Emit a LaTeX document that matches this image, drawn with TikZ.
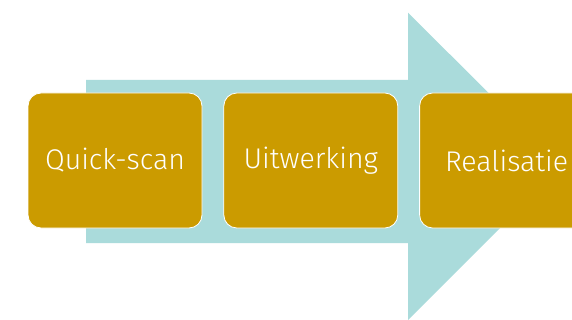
\documentclass[tikz,border=0pt]{standalone}
\usepackage{fontspec}
\setmainfont{Fira Sans}[UprightFont=* Light]
\usetikzlibrary{positioning}
\definecolor{arrowteal}{HTML}{AADBDB}
\definecolor{phasegold}{HTML}{CB9B00}

\begin{document}
\begin{tikzpicture}[x=1pt, y=-1pt,
  node distance=21pt,
  phase/.style={draw=white, line width=0.8pt, fill=phasegold, rounded corners=13pt, minimum width=174pt, minimum height=135pt, text=white, font=\fontsize{28.5}{34}\selectfont, inner sep=0pt}
]
\useasboundingbox (0,0) rectangle (572,320);
\clip (0,0) rectangle (572,320);
% the big arrow behind the phases
\fill[arrowteal] (86,80) -- (408,80) -- (408,12.7) -- (562,166) -- (408,320) -- (408,243) -- (86,243) -- cycle;
\node[phase] (quick) at (115,160.5) {Quick-scan};
\node[phase, right=of quick] (uitwerking) {Uitwerking};
\node[phase, right=of uitwerking] (realisatie) {Realisatie};
\end{tikzpicture}
\end{document}
